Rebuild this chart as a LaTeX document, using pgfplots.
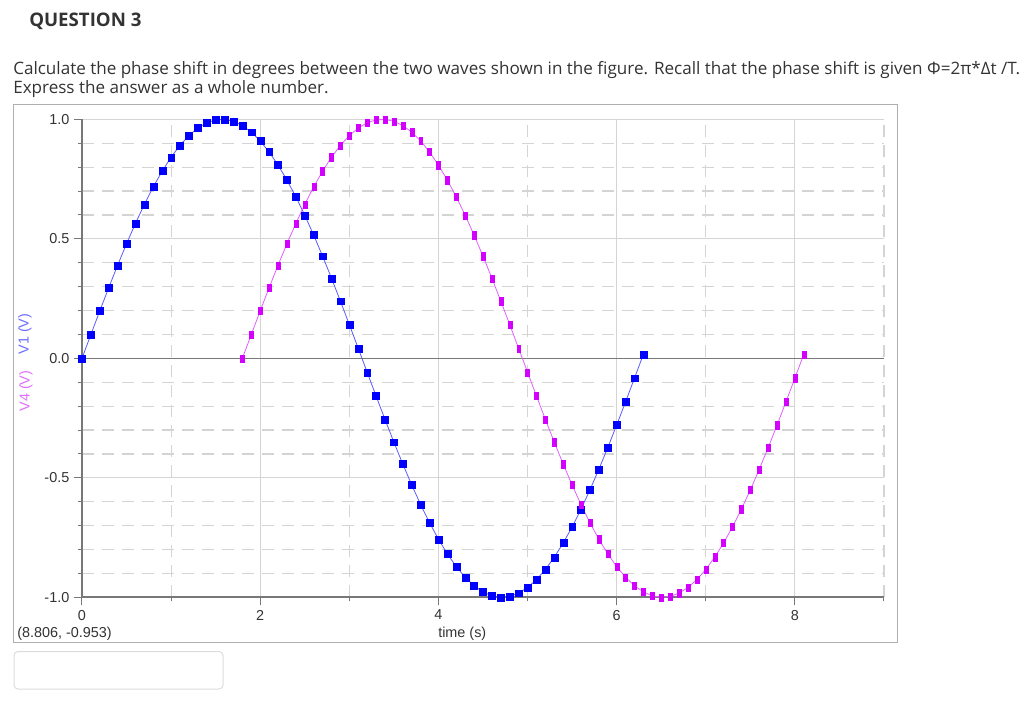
\documentclass[border=0pt]{standalone}
\usepackage{pgfplots}
\pgfplotsset{compat=1.18}
\usepackage{fontspec}
\setmainfont{Open Sans}
\newfontfamily\arial{Liberation Sans}

\definecolor{vblue}{RGB}{0,0,255}
\definecolor{vblueline}{RGB}{90,90,255}
\definecolor{vmag}{RGB}{212,0,255}
\definecolor{vmagline}{RGB}{225,95,255}
\definecolor{vbluelab}{RGB}{110,110,255}
\definecolor{vmaglab}{RGB}{225,110,255}
\definecolor{gridgray}{RGB}{212,212,212}
\definecolor{axisgray}{RGB}{120,120,120}
\definecolor{framegray}{RGB}{175,175,175}
\definecolor{boxgray}{RGB}{220,220,220}
\definecolor{textdark}{RGB}{51,51,51}

% V1: blue wave, samples every 0.1 s
\pgfplotstableread{
t v
0.0 0.0000
0.1 0.0998
0.2 0.1987
0.3 0.2955
0.4 0.3894
0.5 0.4794
0.6 0.5646
0.7 0.6442
0.8 0.7174
0.9 0.7833
1.0 0.8415
1.1 0.8912
1.2 0.9320
1.3 0.9636
1.4 0.9854
1.5 0.9975
1.6 0.9996
1.7 0.9917
1.8 0.9738
1.9 0.9463
2.0 0.9093
2.1 0.8632
2.2 0.8085
2.3 0.7457
2.4 0.6755
2.5 0.5985
2.6 0.5155
2.7 0.4274
2.8 0.3350
2.9 0.2392
3.0 0.1411
3.1 0.0416
3.2 -0.0584
3.3 -0.1577
3.4 -0.2555
3.5 -0.3508
3.6 -0.4425
3.7 -0.5298
3.8 -0.6119
3.9 -0.6878
4.0 -0.7568
4.1 -0.8183
4.2 -0.8716
4.3 -0.9162
4.4 -0.9516
4.5 -0.9775
4.6 -0.9937
4.7 -0.9999
4.8 -0.9962
4.9 -0.9825
5.0 -0.9589
5.1 -0.9258
5.2 -0.8835
5.3 -0.8323
5.4 -0.7728
5.5 -0.7055
5.6 -0.6313
5.7 -0.5507
5.8 -0.4646
5.9 -0.3739
6.0 -0.2794
6.1 -0.1822
6.2 -0.0831
6.3 0.0168
}\vone

% V4: magenta wave, starts at 1.8 s
\pgfplotstableread{
t v
1.8 0.0000
1.9 0.0998
2.0 0.1987
2.1 0.2955
2.2 0.3894
2.3 0.4794
2.4 0.5646
2.5 0.6442
2.6 0.7174
2.7 0.7833
2.8 0.8415
2.9 0.8912
3.0 0.9320
3.1 0.9636
3.2 0.9854
3.3 0.9975
3.4 0.9996
3.5 0.9917
3.6 0.9738
3.7 0.9463
3.8 0.9093
3.9 0.8632
4.0 0.8085
4.1 0.7457
4.2 0.6755
4.3 0.5985
4.4 0.5155
4.5 0.4274
4.6 0.3350
4.7 0.2392
4.8 0.1411
4.9 0.0416
5.0 -0.0584
5.1 -0.1577
5.2 -0.2555
5.3 -0.3508
5.4 -0.4425
5.5 -0.5298
5.6 -0.6119
5.7 -0.6878
5.8 -0.7568
5.9 -0.8183
6.0 -0.8716
6.1 -0.9162
6.2 -0.9516
6.3 -0.9775
6.4 -0.9937
6.5 -0.9999
6.6 -0.9962
6.7 -0.9825
6.8 -0.9589
6.9 -0.9258
7.0 -0.8835
7.1 -0.8323
7.2 -0.7728
7.3 -0.7055
7.4 -0.6313
7.5 -0.5507
7.6 -0.4646
7.7 -0.3739
7.8 -0.2794
7.9 -0.1822
8.0 -0.0831
8.1 0.0168
}\vfour

\begin{document}
\begin{tikzpicture}
\path[use as bounding box] (0,0) rectangle (768pt,-526.5pt);

\begin{scope}[x=0.75pt,y=-0.75pt]
  % page text
  \node[anchor=base west, inner sep=0pt, text=textdark, font=\fontsize{14}{16}\selectfont\bfseries]
    at (29,26.7) {QUESTION 3};
  \node[anchor=base west, inner sep=0pt, text=textdark, font=\fontsize{12.8}{15}\selectfont]
    at (13,75) {Calculate the phase shift in degrees between the two waves shown in the figure. Recall that the phase shift is given Φ=2π*Δt /T.};
  \node[anchor=base west, inner sep=0pt, text=textdark, font=\fontsize{12.8}{15}\selectfont]
    at (13,93.5) {Express the answer as a whole number.};
  % chart frame and answer box
  \draw[framegray, line width=0.75pt] (13,104.5) rectangle (897,642.5);
  \draw[boxgray, line width=0.75pt, rounded corners=3pt] (14,651.5) rectangle (223,689);
  % labels of the chart
  \node[anchor=west, inner sep=0pt, text=textdark, font=\arial\fontsize{10.8}{12}\selectfont]
    at (17,634) {(8.806, -0.953)};
  \node[anchor=west, inner sep=0pt, text=textdark, font=\arial\fontsize{10.8}{12}\selectfont]
    at (438,634) {time (s)};
  \node[rotate=90, inner sep=0pt, text=vbluelab, font=\arial\fontsize{10.8}{12}\selectfont]
    at (25,334) {V1 (V)};
  \node[rotate=90, inner sep=0pt, text=vmaglab, font=\arial\fontsize{10.8}{12}\selectfont]
    at (26,391) {V4 (V)};
\end{scope}

\begin{axis}[
    at={(61.5pt,-447.975pt)}, anchor=south west,
    scale only axis,
    width=601.5pt, height=358.5pt,
    xmin=0, xmax=9, ymin=-1, ymax=1,
    axis x line=bottom, axis y line=left,
    axis line style={-, axisgray, line width=1.5pt},
    xtick={0,2,4,6,8},
    minor xtick={1,3,5,7,9},
    ytick={-1,-0.5,0,0.5,1},
    minor y tick num=4,
    grid=both,
    major grid style={gridgray, solid, line width=0.75pt},
    minor grid style={gridgray, dash pattern=on 9pt off 6pt, line width=0.9pt},
    tick align=outside,
    major tick length=6pt,
    minor tick length=3pt,
    tick style={axisgray, line width=0.75pt},
    ticklabel style={font=\arial\fontsize{10.8}{12}\selectfont, text=textdark},
    /pgf/number format/assume math mode=true,
    yticklabel style={/pgf/number format/.cd, fixed, fixed zerofill, precision=1},
    xticklabel style={/pgf/number format/.cd, fixed, precision=0},
    clip=false,
]
\draw[axisgray, line width=1.2pt] (axis cs:0,0) -- (axis cs:9,0);
\addplot[vblueline, line width=0.6pt, mark=square*, mark size=2.6pt,
    mark options={solid, fill=vblue, draw=vblue, line width=0.2pt}]
    table[x=t, y=v] {\vone};
\addplot[vmagline, line width=0.6pt, mark=square*, mark size=2.7pt,
    mark options={solid, fill=vmag, draw=vmag, line width=0.2pt, xscale=0.55}]
    table[x=t, y=v] {\vfour};
\end{axis}
\end{tikzpicture}
\end{document}
